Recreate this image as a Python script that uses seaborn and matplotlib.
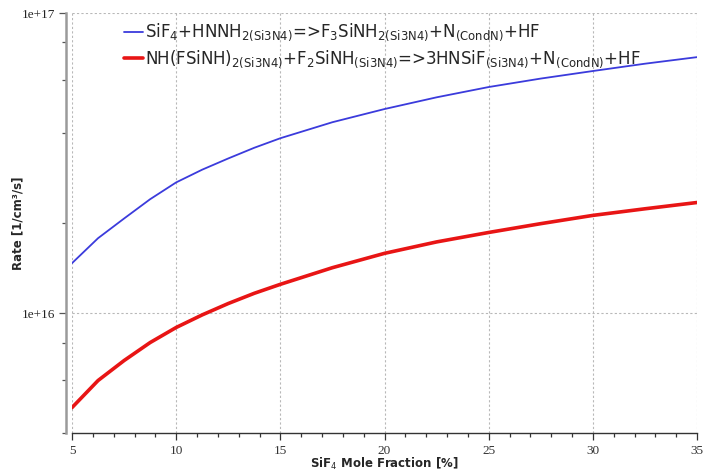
import numpy as np
import pandas as pd
import matplotlib
matplotlib.use("Agg")
import matplotlib.pyplot as plt
import matplotlib.ticker as mticker
import seaborn as sns

# SiF4 mole fraction [%]
mole_fraction = [5, 6.25, 7.5, 8.75, 10, 11.25, 12.5, 13.75, 15, 17.5, 20, 22.5, 25, 27.5, 30, 32.5, 35]

# rates [1/cm3/s]
rate_blue = [1.47e16, 1.78e16, 2.07e16, 2.40e16, 2.73e16, 3.01e16, 3.28e16, 3.56e16, 3.83e16,
             4.33e16, 4.79e16, 5.24e16, 5.67e16, 6.05e16, 6.41e16, 6.78e16, 7.13e16]
rate_red = [4.86e15, 5.98e15, 6.97e15, 8.0e15, 8.98e15, 9.89e15, 1.079e16, 1.167e16, 1.25e16,
            1.42e16, 1.585e16, 1.73e16, 1.86e16, 1.99e16, 2.12e16, 2.23e16, 2.34e16]

label_blue = (r"SiF$_4$+HNNH$_\mathrm{2(Si3N4)}$=>F$_3$SiNH$_\mathrm{2(Si3N4)}$"
              r"+N$_\mathrm{(CondN)}$+HF")
label_red = (r"NH(FSiNH)$_\mathrm{2(Si3N4)}$+F$_2$SiNH$_\mathrm{(Si3N4)}$=>3HNSiF$_\mathrm{(Si3N4)}$"
             r"+N$_\mathrm{(CondN)}$+HF")

df = pd.concat([
    pd.DataFrame({"x": mole_fraction, "rate": rate_blue, "reaction": label_blue}),
    pd.DataFrame({"x": mole_fraction, "rate": rate_red, "reaction": label_red}),
])

sns.set_style("white")
plt.rcParams["mathtext.fontset"] = "dejavusans"

fig = plt.figure(figsize=(7.1, 4.72), dpi=100)
ax = fig.add_axes([72 / 710, 1 - 433 / 472, 625 / 710, 420 / 472])

sns.lineplot(data=df, x="x", y="rate", hue="reaction", size="reaction",
             palette=["#3b3bdc", "#e81515"], sizes=[1.3, 2.6], ax=ax)

ax.set_yscale("log")
ax.set_xlim(5, 35)
ax.set_ylim(4e15, 1e17)

ax.xaxis.set_major_locator(mticker.MultipleLocator(5))
ax.xaxis.set_minor_locator(mticker.MultipleLocator(1))
ax.yaxis.set_major_locator(mticker.LogLocator(base=10, subs=[1.0]))
ax.yaxis.set_minor_locator(mticker.LogLocator(base=10, subs=[2, 4, 6, 8]))
ax.yaxis.set_minor_formatter(mticker.NullFormatter())
ax.yaxis.set_major_formatter(mticker.FuncFormatter(lambda v, p: "1e+%d" % round(np.log10(v))))

ax.grid(True, which="major", color="#b8b8b8", linestyle=(0, (2, 2)), linewidth=0.8)

for s in ["top", "right"]:
    ax.spines[s].set_visible(False)
ax.spines["left"].set_position(("outward", 4))
ax.spines["left"].set_color("#9a9a9a")
ax.spines["left"].set_linewidth(1.8)
ax.spines["bottom"].set_color("#333333")
ax.spines["bottom"].set_linewidth(1.0)

ax.tick_params(axis="both", which="both", direction="out", bottom=True, left=True,
               colors="#333333", labelsize=9.5, labelfontfamily="Liberation Serif")
ax.tick_params(which="major", length=5, width=0.9)
ax.tick_params(which="minor", length=3, width=0.9)
ax.tick_params(axis="y", which="both", colors="#555555", labelcolor="#222222", pad=3)

ax.set_xlabel(r"SiF$_4$ Mole Fraction [%]", fontsize=8.5, fontweight="bold")
ax.set_ylabel("Rate [1/cm³/s]", fontsize=8.5, fontweight="bold")
ax.xaxis.set_label_coords(0.5, -0.055)
ax.yaxis.set_label_coords(-0.076, 0.5)

handles, labels = ax.get_legend_handles_labels()
ax.legend(handles, labels, loc="upper left", bbox_to_anchor=(0.072, 0.995),
          frameon=False, fontsize=12, handlelength=1.15, handletextpad=0.15,
          labelspacing=0.32, borderaxespad=0)

fig.savefig("out.png", dpi=100)
